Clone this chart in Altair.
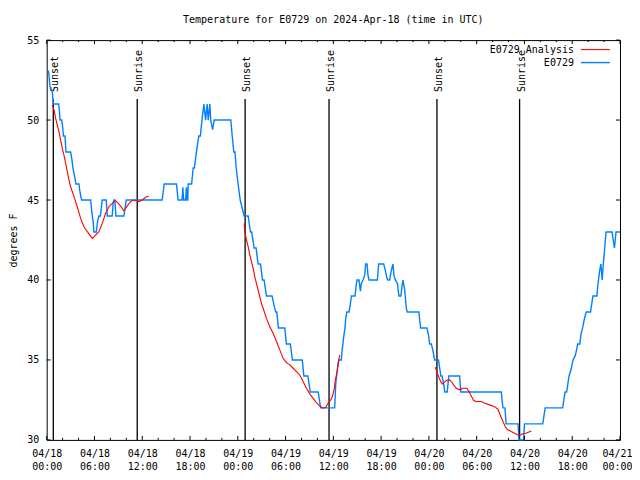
import altair as alt
import pandas as pd

FONT = "DejaVu Sans Mono"
FS = 10

title_text = "Temperature for E0729 on 2024-Apr-18 (time in UTC)"
y_title = "degrees F"

# hours since 2024-04-18 00:00 UTC
obs_hours = [0.21, 0.29, 0.41, 0.70, 0.83, 1.50, 1.60, 1.67, 1.88, 2.00, 2.10, 2.30, 2.36, 2.42, 3.00, 3.15, 3.30, 3.50,
             3.68, 4.05, 4.15, 4.30, 4.39, 5.52, 5.65, 5.85, 5.93, 6.23, 6.40, 6.56, 6.75, 6.88, 6.98, 7.48, 7.61, 8.23,
             8.35, 8.44, 8.57, 8.69, 9.70, 9.99, 14.50, 14.76, 16.30, 16.50, 17.00, 17.10, 17.20, 17.45, 17.55, 17.65,
             17.72, 17.77, 18.20, 18.40, 18.55, 18.80, 19.10, 19.30, 19.50, 19.74, 19.95, 20.15, 20.28, 20.49, 20.60,
             20.83, 21.03, 23.12, 23.30, 23.50, 23.65, 23.80, 24.04, 24.30, 24.55, 24.80, 25.30, 25.60, 25.75, 26.05,
             26.30, 26.55, 26.85, 27.10, 27.30, 27.60, 28.30, 28.60, 28.77, 28.90, 29.10, 29.90, 30.10, 30.60, 30.86,
             32.10, 32.30, 32.80, 33.10, 34.10, 34.40, 36.17, 36.30, 36.46, 36.60, 36.70, 37.00, 37.10, 37.20, 37.34,
             37.47, 37.55, 37.70, 37.97, 38.14, 38.27, 38.72, 38.85, 38.97, 39.22, 39.40, 39.52, 39.73, 39.94, 40.06,
             40.23, 40.35, 40.48, 41.53, 41.69, 42.32, 42.53, 42.74, 42.86, 43.07, 43.28, 43.49, 43.61, 43.78, 44.04,
             44.24, 44.49, 44.62, 44.74, 44.96, 45.17, 45.30, 46.75, 46.84, 46.96, 47.75, 47.97, 48.09, 48.30, 48.50,
             48.72, 49.20, 49.35, 49.50, 49.65, 49.85, 50.00, 50.30, 50.40, 50.50, 51.86, 52.00, 57.10, 57.20, 57.30,
             57.55, 57.70, 59.20, 59.30, 59.90, 60.00, 62.30, 62.45, 62.60, 64.80, 64.95, 65.10, 65.30, 65.45, 65.60,
             65.85, 66.10, 66.40, 66.70, 66.95, 67.10, 67.30, 67.50, 67.75, 68.30, 68.45, 68.60, 69.10, 69.20, 69.30,
             69.45, 69.60, 69.76, 69.90, 70.05, 70.15, 70.26, 71.00, 71.30, 71.40, 71.50, 72.00]
obs_temps = [53.1, 52.8, 52.1, 51.8, 51.0, 51.0, 50.6, 50.0, 50.0, 49.6, 49.0, 49.0, 48.5, 48.0, 48.0, 47.6, 47.0, 46.5,
             46.0, 46.0, 45.6, 45.2, 45.0, 45.0, 44.3, 43.6, 43.0, 43.0, 43.7, 44.0, 44.0, 44.6, 45.0, 45.0, 44.0, 44.0,
             44.8, 45.0, 45.0, 44.0, 44.0, 45.0, 45.0, 46.0, 46.0, 45.0, 45.0, 45.8, 45.0, 45.0, 45.8, 45.0,
             45.0, 46.0, 46.0, 47.0, 47.0, 48.0, 49.0, 49.0, 50.0, 51.0, 50.0, 51.0, 50.0, 51.0, 50.0,
             49.4, 50.0, 50.0, 49.0, 48.0, 48.0, 47.0, 46.0, 45.0, 44.5, 44.0, 44.0, 43.0, 43.0, 42.0,
             42.0, 41.0, 41.0, 40.0, 40.0, 39.0, 39.0, 38.3, 38.0, 38.0, 37.0, 37.0, 36.0, 36.0, 35.0,
             35.0, 34.0, 34.0, 33.0, 33.0, 32.0, 32.0, 33.5, 34.2, 34.8, 35.0, 35.0, 35.6, 36.0, 36.6,
             37.0, 37.6, 38.0, 38.0, 38.5, 39.0, 39.0, 39.6, 40.0, 40.0, 39.3, 39.8, 40.0, 40.3, 41.0,
             41.0, 40.3, 40.0, 40.0, 41.0, 41.0, 40.6, 40.1, 40.0, 40.0, 40.6, 41.0, 40.3, 40.0, 39.8,
             39.0, 39.0, 39.6, 40.0, 39.4, 38.2, 38.0, 38.0, 37.5, 37.0, 37.0, 36.5, 36.0, 36.0, 35.6,
             35.0, 35.0, 34.5, 34.0, 34.0, 33.5, 33.0, 33.0, 33.5, 34.0, 34.0, 33.0, 33.0, 32.4, 32.0,
             32.0, 31.0, 31.0, 30.0, 30.0, 31.0, 31.0, 31.5, 32.0, 32.0, 32.5, 33.0, 33.0, 33.5, 34.0,
             34.4, 35.0, 35.3, 36.0, 36.0, 36.6, 37.0, 37.5, 38.0, 38.0, 38.5, 39.0, 39.0, 39.6, 40.0,
             40.6, 41.0, 40.0, 41.0, 41.8, 42.5, 43.0, 43.0, 42.0, 42.5, 43.0, 43.0]

ana1_hours = [0.71, 0.92, 1.13, 1.33, 1.54, 1.75, 1.96, 2.17, 2.38, 2.59, 2.80, 3.01, 3.43, 3.84, 4.26, 4.68, 5.10, 5.73,
              6.14, 6.56, 6.98, 7.40, 7.82, 8.23, 8.65, 9.07, 9.49, 9.70, 10.12, 10.53, 10.95, 11.58, 12.00, 12.42, 12.83]
ana1_temps = [50.94, 50.63, 50.10, 49.69, 49.27, 48.75, 48.23, 47.81, 47.29, 46.77, 46.25, 45.83, 45.21, 44.58, 43.85,
              43.33, 43.02, 42.60, 42.81, 43.02, 43.54, 44.17, 44.58, 44.79, 44.96, 44.75, 44.48, 44.33, 44.63, 44.90,
              45.00, 44.90, 45.00, 45.17, 45.25]
ana2_hours = [24.80, 24.88, 25.09, 25.30, 25.51, 25.72, 25.93, 26.13, 26.34, 26.55, 26.76, 26.97, 27.18, 27.39, 27.60,
              28.02, 28.44, 28.86, 29.27, 29.69, 30.11, 30.53, 30.95, 31.37, 31.78, 32.20, 32.62, 33.04, 33.46, 33.87,
              34.29, 34.71, 35.04, 35.34, 35.63, 35.88, 36.09, 36.26, 36.47, 36.68, 36.80]
ana2_temps = [43.54, 43.02, 42.50, 42.08, 41.56, 41.15, 40.73, 40.21, 39.79, 39.38, 38.96, 38.54, 38.23, 37.92, 37.60,
              37.08, 36.67, 36.15, 35.63, 35.10, 34.83, 34.69, 34.48, 34.27, 34.06, 33.65, 33.23, 32.88, 32.60, 32.33,
              32.13, 31.98, 32.04, 32.29, 32.46, 32.71, 33.13, 33.75, 34.27, 35.00, 35.31]
ana3_hours = [48.80, 49.00, 49.23, 49.47, 49.68, 49.89, 50.18, 50.60, 50.81, 51.10, 51.44, 51.86, 52.27, 52.78, 53.03,
              53.32, 53.62, 53.95, 54.58, 55.00, 55.62, 56.25, 56.67, 56.96, 57.30, 57.63, 57.92, 58.34, 58.76, 59.18,
              59.47, 59.80, 60.20, 60.85]
ana3_temps = [34.54, 34.27, 33.96, 33.65, 33.50, 33.58, 33.71, 33.75, 33.65, 33.44, 33.23, 33.13, 33.23, 33.23, 33.02,
              32.75, 32.46, 32.40, 32.40, 32.29, 32.19, 32.08, 31.92, 31.56, 31.15, 30.79, 30.63, 30.52, 30.42, 30.31,
              30.31, 30.38, 30.42, 30.56]

event_hours = [0.83, 11.37, 24.92, 35.46, 49.01, 59.39]
event_names = ["Sunset", "Sunrise", "Sunset", "Sunrise", "Sunset", "Sunrise"]

x_major = [0, 6, 12, 18, 24, 30, 36, 42, 48, 54, 60, 66, 72]
x_minor = [h for h in range(0, 73, 2) if h % 6 != 0]
y_major = [30, 35, 40, 45, 50, 55]

legend_labels = ["E0729 Analysis", "E0729"]
legend_colors = ["#ff0000", "#0080ff"]

W, H = 573.6, 400

obs = pd.DataFrame({"h": obs_hours, "t": obs_temps})
ana = pd.concat([
    pd.DataFrame({"h": ana1_hours, "t": ana1_temps, "seg": "a"}),
    pd.DataFrame({"h": ana2_hours, "t": ana2_temps, "seg": "b"}),
    pd.DataFrame({"h": ana3_hours, "t": ana3_temps, "seg": "c"}),
])
events = pd.DataFrame({"h": event_hours, "name": event_names})
xmaj = pd.DataFrame({"h": x_major})
xmin = pd.DataFrame({"h": x_minor})
ymaj = pd.DataFrame({"t": y_major})

xscale = alt.Scale(domain=[0, 72], nice=False, zero=False)
yscale = alt.Scale(domain=[30, 55], nice=False, zero=False)

x_axis = alt.Axis(
    values=x_major, title=None, grid=False, ticks=False, tickSize=0, domain=False,
    labelExpr="['04/' + format(18 + floor(datum.value / 24), 'd'), format(datum.value % 24, '02d') + ':00']",
    labelFont=FONT, labelFontSize=FS, labelColor="black", labelPadding=9, labelLineHeight=13,
    labelFlush=False, labelOverlap=False,
    labelOffset={"condition": {"test": "datum.value >= 72", "value": -3}, "value": 0},
)
y_axis = alt.Axis(
    values=y_major, title=y_title, grid=False, ticks=False, tickSize=0, domain=False,
    labelFont=FONT, labelFontSize=FS, labelColor="black", labelPadding=8,
    labelFlush=False, labelOverlap=False,
    titleFont=FONT, titleFontSize=FS, titleFontWeight="normal", titleColor="black",
    titleX=-33.5, titleY=200, titleAngle=270, titleBaseline="middle", titleAlign="center",
)

X = alt.X("h:Q", scale=xscale, axis=x_axis)
Y = alt.Y("t:Q", scale=yscale, axis=y_axis, title=y_title)

ev_rules = alt.Chart(events).mark_rule(color="black", strokeWidth=1.3).encode(
    x=X, y=alt.value(H), y2=alt.value(59))
ev_text = alt.Chart(events).mark_text(
    angle=270, align="left", baseline="middle", dy=2, font=FONT, fontSize=FS, color="black"
).encode(x=X, y=alt.value(52), text="name:N")

obs_line = alt.Chart(obs).mark_line(color="#0080ff", strokeWidth=1.4).encode(x=X, y=Y)
ana_line = alt.Chart(ana).mark_line(color="#ff0000", strokeWidth=1.1).encode(x=X, y=Y, detail="seg:N")

tk_xb = alt.Chart(xmaj).mark_rule(color="black").encode(x=X, y=alt.value(H), y2=alt.value(H - 4))
tk_xt = alt.Chart(xmaj).mark_rule(color="black").encode(x=X, y=alt.value(0), y2=alt.value(4))
tk_xbm = alt.Chart(xmin).mark_rule(color="black").encode(x=X, y=alt.value(H), y2=alt.value(H - 2))
tk_xtm = alt.Chart(xmin).mark_rule(color="black").encode(x=X, y=alt.value(0), y2=alt.value(2))
tk_yl = alt.Chart(ymaj).mark_rule(color="black").encode(y=Y, x=alt.value(0), x2=alt.value(4))
tk_yr = alt.Chart(ymaj).mark_rule(color="black").encode(y=Y, x=alt.value(W), x2=alt.value(W - 4))

title = alt.Chart(pd.DataFrame({"s": [title_text]})).mark_text(
    font=FONT, fontSize=FS, color="black", align="center", baseline="middle"
).encode(text="s:N", x=alt.value(W / 2), y=alt.value(-20))

leg1 = alt.Chart(pd.DataFrame({"s": [legend_labels[0]]})).mark_text(
    font=FONT, fontSize=FS, color="black", align="right", baseline="middle"
).encode(text="s:N", x=alt.value(527.5), y=alt.value(10))
leg2 = alt.Chart(pd.DataFrame({"s": [legend_labels[1]]})).mark_text(
    font=FONT, fontSize=FS, color="black", align="right", baseline="middle"
).encode(text="s:N", x=alt.value(527.5), y=alt.value(22.5))
legl1 = alt.Chart(pd.DataFrame({"s": [legend_labels[0]]})).mark_rule(
    color=legend_colors[0], strokeWidth=1.1).encode(x=alt.value(534.5), x2=alt.value(563.5), y=alt.value(9.5))
legl2 = alt.Chart(pd.DataFrame({"s": [legend_labels[1]]})).mark_rule(
    color=legend_colors[1], strokeWidth=1.4).encode(x=alt.value(534.5), x2=alt.value(563.5), y=alt.value(22.5))

chart = alt.layer(
    ev_rules, ev_text, obs_line, ana_line,
    tk_xb, tk_xt, tk_xbm, tk_xtm, tk_yl, tk_yr,
    title, leg1, leg2, legl1, legl2,
).properties(
    width=W, height=H,
    autosize=alt.AutoSizeParams(type="none"),
    padding={"left": 38.7, "top": 32, "right": 12, "bottom": 32},
).configure_view(stroke="black", strokeWidth=1)

chart.save("out.html", embed_options={"renderer": "svg", "actions": False})
